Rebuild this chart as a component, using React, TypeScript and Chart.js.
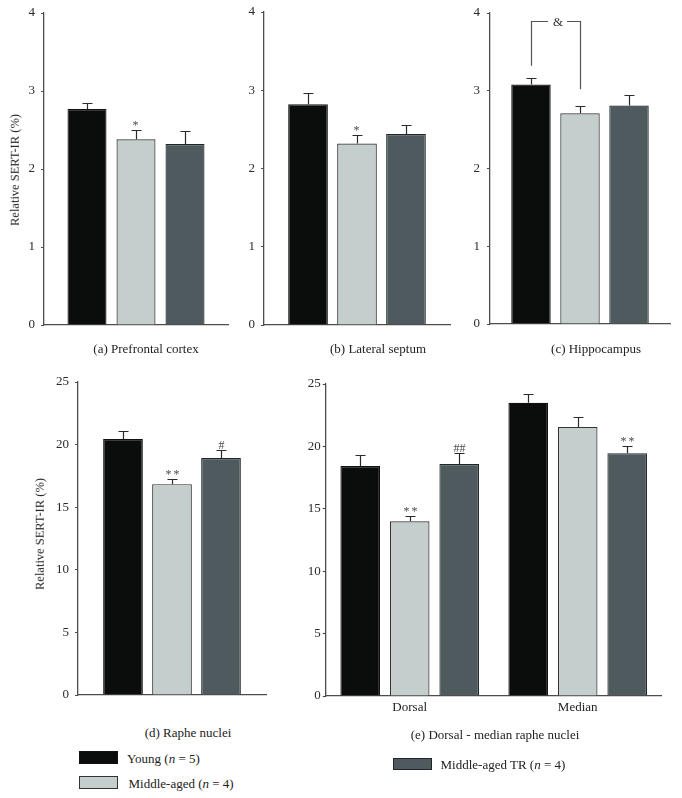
import React, { useEffect, useRef } from "react";
import { Chart, registerables } from "chart.js";

Chart.register(...registerables);

// ---------- data ----------
const groupNames = ["Young", "Middle-aged", "Middle-aged TR"];
const groupSizes = [5, 4, 4];

const smallAxisTicks = [0, 1, 2, 3, 4];
const largeAxisTicks = [0, 5, 10, 15, 20, 25];

const prefrontalMeans = [2.77, 2.38, 2.32];
const prefrontalErrors = [0.08, 0.12, 0.17];
const prefrontalMarks = ["", "*", ""];

const septumMeans = [2.82, 2.32, 2.44];
const septumErrors = [0.15, 0.11, 0.12];
const septumMarks = ["", "*", ""];

const hippocampusMeans = [3.08, 2.71, 2.81];
const hippocampusErrors = [0.09, 0.09, 0.14];
const hippocampusMarks = ["", "", ""];
const hippocampusBracketLabel = "&";
const hippocampusBracketGroups = [0, 1];
const hippocampusBracketLevels = [3.9, 3.32, 3.02]; // top, left end, right end

const rapheMeans = [20.45, 16.84, 18.93];
const rapheErrors = [0.63, 0.45, 0.64];
const rapheMarks = ["", "**", "#"];

const subregionCategories = ["Dorsal", "Median"];
const subYoungMeans = [18.43, 23.5];
const subYoungErrors = [0.87, 0.67];
const subYoungMarks = ["", ""];
const subMiddleMeans = [14.0, 21.56];
const subMiddleErrors = [0.4, 0.8];
const subMiddleMarks = ["**", ""];
const subTrMeans = [18.58, 19.46];
const subTrErrors = [0.88, 0.61];
const subTrMarks = ["##", "**"];

const panelCaptions = [
  "(a) Prefrontal cortex",
  "(b) Lateral septum",
  "(c) Hippocampus",
  "(d) Raphe nuclei",
  "(e) Dorsal - median raphe nuclei",
];
const yAxisTitle = "Relative SERT-IR (%)";

// ---------- styles ----------
const FONT = "'Liberation Serif', 'Times New Roman', serif";
const barFills = ["#0b0d0c", "#c4cecc", "#4e5a5d"];
const barBorders = ["#111111", "#333333", "#1f2628"];
const AXIS = "#4d4d4d";
const MARGIN = 22;

type Bracket = { label: string; groups: number[]; levels: number[] };
type Frame = {
  left: number; width: number;
  plotLeft: number; plotRight: number; plotTop: number; plotBottom: number;
  catPct: number; barPct: number; tickPad: number; xAxisHeight: number;
};
type Spec = {
  categories: string[];
  means: number[][];
  errors: number[][];
  marks: string[][];
  ticks: number[];
  showCategoryLabels: boolean;
  bracket?: Bracket;
  frame: Frame;
};

const single = (arr: any[]) => arr.map((v) => [v]);

const specs: Spec[] = [
  {
    categories: ["Prefrontal cortex"],
    means: single(prefrontalMeans),
    errors: single(prefrontalErrors),
    marks: single(prefrontalMarks),
    ticks: smallAxisTicks,
    showCategoryLabels: false,
    frame: { left: 0, width: 240, plotLeft: 44, plotRight: 228, plotTop: 13, plotBottom: 325, catPct: 0.799, barPct: 0.796, tickPad: 6, xAxisHeight: 0 },
  },
  {
    categories: ["Lateral septum"],
    means: single(septumMeans),
    errors: single(septumErrors),
    marks: single(septumMarks),
    ticks: smallAxisTicks,
    showCategoryLabels: false,
    frame: { left: 240, width: 220, plotLeft: 264, plotRight: 450, plotTop: 12, plotBottom: 325, catPct: 0.79, barPct: 0.81, tickPad: 6, xAxisHeight: 0 },
  },
  {
    categories: ["Hippocampus"],
    means: single(hippocampusMeans),
    errors: single(hippocampusErrors),
    marks: single(hippocampusMarks),
    ticks: smallAxisTicks,
    showCategoryLabels: false,
    bracket: { label: hippocampusBracketLabel, groups: hippocampusBracketGroups, levels: hippocampusBracketLevels },
    frame: { left: 460, width: 222, plotLeft: 490, plotRight: 670, plotTop: 13, plotBottom: 324, catPct: 0.817, barPct: 0.805, tickPad: 7, xAxisHeight: 0 },
  },
  {
    categories: ["Raphe nuclei"],
    means: single(rapheMeans),
    errors: single(rapheErrors),
    marks: single(rapheMarks),
    ticks: largeAxisTicks,
    showCategoryLabels: false,
    frame: { left: 0, width: 300, plotLeft: 78, plotRight: 266, plotTop: 381.5, plotBottom: 695.3, catPct: 0.782, barPct: 0.81, tickPad: 6, xAxisHeight: 0 },
  },
  {
    categories: subregionCategories,
    means: [subYoungMeans, subMiddleMeans, subTrMeans],
    errors: [subYoungErrors, subMiddleErrors, subTrErrors],
    marks: [subYoungMarks, subMiddleMarks, subTrMarks],
    ticks: largeAxisTicks,
    showCategoryLabels: true,
    frame: { left: 300, width: 382, plotLeft: 325.7, plotRight: 661.7, plotTop: 383.5, plotBottom: 696, catPct: 0.884, barPct: 0.8, tickPad: 2, xAxisHeight: 24 },
  },
];

function makeAnnotator(spec: Spec) {
  return {
    id: "annotator",
    afterDatasetsDraw(chart: any) {
      const { ctx } = chart;
      const y = chart.scales.y;
      ctx.save();
      spec.means.forEach((gm, g) => {
        const meta = chart.getDatasetMeta(g);
        gm.forEach((m, c) => {
          const bar = meta.data[c];
          if (!bar) return;
          const x = Math.round(bar.x) + 0.5;
          const top = Math.round(y.getPixelForValue(m + spec.errors[g][c])) + 0.5;
          const base = y.getPixelForValue(m);
          ctx.strokeStyle = "#2a2a2a";
          ctx.lineWidth = 1.2;
          ctx.beginPath();
          ctx.moveTo(x, base);
          ctx.lineTo(x, top);
          ctx.moveTo(x - 5, top);
          ctx.lineTo(x + 5, top);
          ctx.stroke();
          const mark = spec.marks[g][c];
          if (mark) {
            const isStar = mark.startsWith("*");
            ctx.fillStyle = "#4a4a4a";
            ctx.font = `12px ${FONT}`;
            ctx.textAlign = "center";
            ctx.textBaseline = "alphabetic";
            (ctx as any).letterSpacing = isStar ? "2px" : "0px";
            ctx.fillText(mark, x + (mark.length > 1 && isStar ? 1 : 0), top - 2);
            (ctx as any).letterSpacing = "0px";
          }
        });
      });
      if (spec.bracket) {
        const b = spec.bracket;
        const x1 = Math.round(chart.getDatasetMeta(b.groups[0]).data[0].x) + 0.5;
        const x2 = Math.round(chart.getDatasetMeta(b.groups[1]).data[0].x) + 0.5;
        const yt = Math.round(y.getPixelForValue(b.levels[0])) + 0.5;
        const yl = y.getPixelForValue(b.levels[1]);
        const yr = y.getPixelForValue(b.levels[2]);
        const mid = (x1 + x2) / 2 + 2;
        ctx.strokeStyle = "#555";
        ctx.lineWidth = 1.2;
        ctx.beginPath();
        ctx.moveTo(x1, yl);
        ctx.lineTo(x1, yt);
        ctx.lineTo(mid - 10, yt);
        ctx.moveTo(mid + 9, yt);
        ctx.lineTo(x2, yt);
        ctx.lineTo(x2, yr);
        ctx.stroke();
        ctx.fillStyle = "#333";
        ctx.font = `13px ${FONT}`;
        ctx.textAlign = "center";
        ctx.textBaseline = "middle";
        ctx.fillText(b.label, mid, yt + 1);
      }
      ctx.restore();
    },
  };
}

function Panel({ spec }: { spec: Spec }) {
  const ref = useRef<HTMLCanvasElement>(null);
  const f = spec.frame;
  const canvasTop = f.plotTop - MARGIN;
  const canvasHeight = f.plotBottom - f.plotTop + 2 * MARGIN + f.xAxisHeight;
  useEffect(() => {
    if (!ref.current) return;
    const chart = new Chart(ref.current, {
      type: "bar",
      data: {
        labels: spec.categories,
        datasets: spec.means.map((gm, g) => ({
          label: `${groupNames[g]} (n = ${groupSizes[g]})`,
          data: gm,
          backgroundColor: barFills[g],
          borderColor: barBorders[g],
          borderWidth: 1.2,
          borderSkipped: "start",
          categoryPercentage: f.catPct,
          barPercentage: f.barPct,
        })),
      },
      options: {
        animation: false,
        responsive: false,
        events: [],
        layout: {
          padding: {
            left: 0,
            right: f.left + f.width - f.plotRight,
            top: MARGIN,
            bottom: MARGIN,
          },
        },
        plugins: { legend: { display: false }, tooltip: { enabled: false } },
        scales: {
          x: {
            type: "category",
            offset: true,
            grid: { display: false, drawTicks: false },
            border: { display: true, color: AXIS, width: 1.3 },
            ticks: {
              display: spec.showCategoryLabels,
              padding: 4,
              color: "#222",
              font: { family: FONT, size: 13 },
            },
            afterFit: (s: any) => {
              s.height = f.xAxisHeight;
            },
          },
          y: {
            type: "linear",
            min: spec.ticks[0],
            max: spec.ticks[spec.ticks.length - 1],
            afterBuildTicks: (s: any) => {
              s.ticks = spec.ticks.map((v) => ({ value: v }));
            },
            grid: { display: true, drawOnChartArea: false, drawTicks: true, tickLength: 3, tickColor: AXIS, tickWidth: 1.2 },
            border: { display: true, color: AXIS, width: 1.3 },
            ticks: {
              padding: f.tickPad,
              color: "#2a2a2a",
              font: { family: FONT, size: 13 },
            },
            afterFit: (s: any) => {
              s.width = f.plotLeft - f.left;
            },
          },
        },
      } as any,
      plugins: [makeAnnotator(spec)],
    });
    return () => chart.destroy();
  }, []);
  return (
    <canvas
      ref={ref}
      width={f.width}
      height={canvasHeight}
      style={{ position: "absolute", left: f.left, top: canvasTop, width: f.width, height: canvasHeight }}
    />
  );
}

const captionCenters = [
  [146, 348],
  [378, 348],
  [596, 348],
  [188, 732],
  [495, 734],
];
const yTitleCenters = [
  [15, 170],
  [40, 534],
];
const legendBoxes = [
  { x: 79, y: 751, textX: 127, textY: 757.5 },
  { x: 79, y: 776, textX: 128.5, textY: 782.5 },
  { x: 392.5, y: 757.5, textX: 440.5, textY: 763.5 },
];

const baseText: React.CSSProperties = {
  position: "absolute",
  fontFamily: FONT,
  color: "#222",
  whiteSpace: "nowrap",
  lineHeight: 1,
};

export default function App() {
  return (
    <div style={{ position: "absolute", left: 0, top: 0, width: 682, height: 798, background: "#fff", overflow: "hidden" }}>
      {specs.map((s, i) => (
        <Panel key={i} spec={s} />
      ))}
      {panelCaptions.map((c, i) => (
        <div
          key={"c" + i}
          style={{ ...baseText, fontSize: 13, left: captionCenters[i][0], top: captionCenters[i][1], transform: "translate(-50%, -50%)" }}
        >
          {c}
        </div>
      ))}
      {yTitleCenters.map((p, i) => (
        <div
          key={"t" + i}
          style={{ ...baseText, fontSize: 12.5, left: p[0], top: p[1], transform: "translate(-50%, -50%) rotate(-90deg)" }}
        >
          {yAxisTitle}
        </div>
      ))}
      {legendBoxes.map((b, i) => (
        <React.Fragment key={"l" + i}>
          <div
            style={{
              position: "absolute",
              left: b.x,
              top: b.y,
              width: 39,
              height: 12.5,
              boxSizing: "border-box",
              background: barFills[i],
              border: `1.2px solid ${barBorders[i]}`,
            }}
          />
          <div style={{ ...baseText, fontSize: 13, left: b.textX, top: b.textY, transform: "translateY(-50%)" }}>
            {groupNames[i]} (<i>n</i> = {groupSizes[i]})
          </div>
        </React.Fragment>
      ))}
    </div>
  );
}
